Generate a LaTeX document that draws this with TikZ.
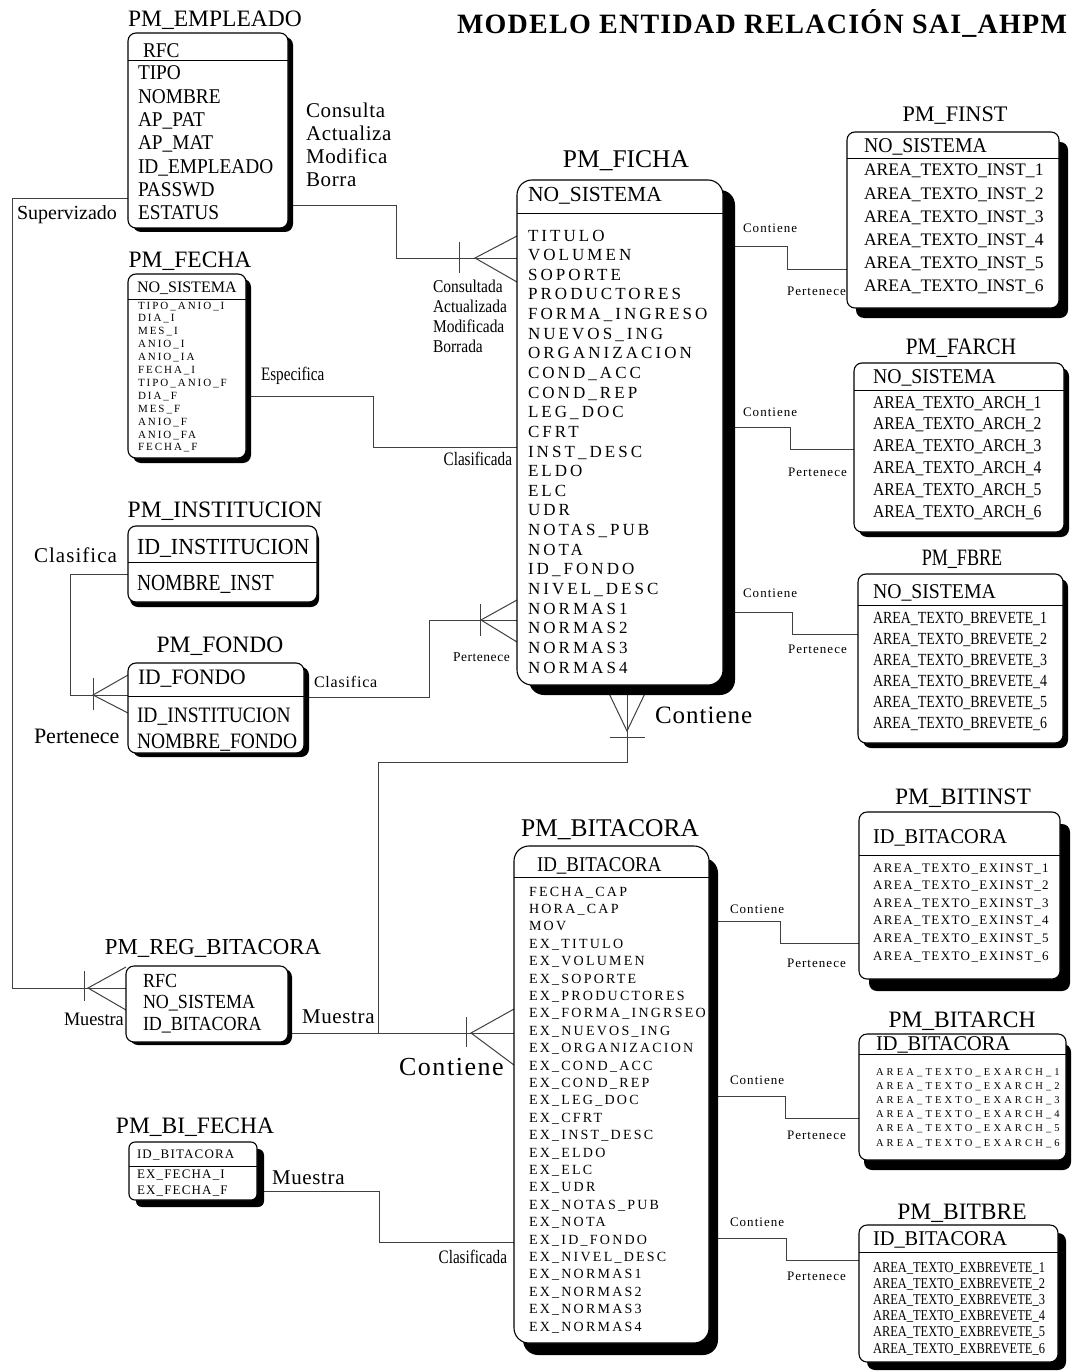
\documentclass[tikz,border=0pt]{standalone}
\usepackage{fontspec}
\setmainfont{Liberation Serif}
\newcommand\FS[3]{\fontsize{#1}{#2}\selectfont\addfontfeatures{FakeStretch=#3}}
\newcommand\FL[3]{\fontsize{#1}{#2}\selectfont\addfontfeatures{LetterSpace=#3}}
\newcommand\FN[2]{\fontsize{#1}{#2}\selectfont}
\newcommand\rows[1]{\begin{tabular}[t]{@{}l@{}}#1\end{tabular}}
\newcommand\ent[8]{%
  \fill[black, rounded corners=#8pt] ({#2+#6},{#3+#7}) rectangle ({#4+#6},{#5+#7});
  \node[box, rounded corners=#8pt, minimum width={#4-#2}, minimum height={#5-#3}] (#1) at (#2,#3) {};
}
\pgfdeclarelayer{back}
\pgfdeclarelayer{bg}
\pgfsetlayers{back,bg,main}
\begin{document}
\begin{tikzpicture}[x=1pt,y=-1pt,
  box/.style={draw, fill=white, line width=1.1pt, inner sep=0pt, outer sep=0pt, anchor=north west},
  hl/.style={line width=1pt},
  conn/.style={line width=1pt, draw=black!75},
  ttl/.style={inner sep=0pt, outer sep=0pt, anchor=base, font=\FN{23.5}{26}},
  txt/.style={inner sep=0pt, outer sep=0pt, anchor=base west},
  sml/.style={txt, font=\FL{13}{15}{8}}
]
\begin{pgfonlayer}{back}
\fill[white] (0,0) rectangle (1073,1372);
\end{pgfonlayer}
\useasboundingbox (0,0) rectangle (1073,1372);

% main title
\node[txt, font=\FL{28}{30}{4.5}\bfseries] (mainT) at (457,34) {MODELO ENTIDAD RELACIÓN SAI\_AHPM};

% ---------------- PM_EMPLEADO
\ent{emp}{128}{33}{288}{228}{5}{4}{8}
\draw[hl] (emp.west |- 0,61) -- (emp.east |- 0,61);
\node[ttl] (empT) at (215,27) {PM\_EMPLEADO};
\node[txt, font=\FS{21}{23.3}{0.92}] (empK) at (143,58) {RFC};
\node[txt, font=\FS{21}{23.3}{0.92}] (empF) at (138,80) {\rows{TIPO\\NOMBRE\\AP\_PAT\\AP\_MAT\\ID\_EMPLEADO\\PASSWD\\ESTATUS}};

% ---------------- PM_FECHA
\ent{fec}{128}{274}{246}{458}{5}{5}{8}
\draw[hl] (fec.west |- 0,299) -- (fec.east |- 0,299);
\node[ttl] (fecT) at (190,267) {PM\_FECHA};
\node[txt, font=\FN{16}{18}] (fecK) at (137,292) {NO\_SISTEMA};
\node[txt, font=\FL{11}{12.9}{18}] (fecF) at (138,309) {\rows{TIPO\_ANIO\_I\\DIA\_I\\MES\_I\\ANIO\_I\\ANIO\_IA\\FECHA\_I\\TIPO\_ANIO\_F\\DIA\_F\\MES\_F\\ANIO\_F\\ANIO\_FA\\FECHA\_F}};

% ---------------- PM_INSTITUCION
\ent{ins}{128}{526}{317}{602}{2}{5}{8}
\draw[hl] (ins.west |- 0,562) -- (ins.east |- 0,562);
\node[ttl] (insT) at (225,517) {PM\_INSTITUCION};
\node[txt, font=\FS{23}{25}{0.95}] (insK) at (137,554) {ID\_INSTITUCION};
\node[txt, font=\FS{23}{25}{0.85}] (insF) at (137,590) {NOMBRE\_INST};

% ---------------- PM_FONDO
\ent{fon}{128}{663}{304}{753}{5}{4}{8}
\draw[hl] (fon.west |- 0,696) -- (fon.east |- 0,696);
\node[ttl] (fonT) at (220,652) {PM\_FONDO};
\node[txt, font=\FS{22}{26}{0.98}] (fonK) at (138,684) {ID\_FONDO};
\node[txt, font=\FS{22}{26}{0.885}] (fonF) at (137,722) {\rows{ID\_INSTITUCION\\NOMBRE\_FONDO}};

% ---------------- PM_REG_BITACORA
\ent{reg}{126}{966}{288}{1042}{4}{3}{8}
\node[ttl, font=\FN{22.8}{26}] (regT) at (213,954) {PM\_REG\_BITACORA};
\node[txt, font=\FS{20}{21.5}{0.9}] (regF) at (143,987) {\rows{RFC\\NO\_SISTEMA\\ID\_BITACORA}};

% ---------------- PM_BI_FECHA
\ent{bif}{129}{1142}{257}{1200}{7}{7}{6}
\draw[hl] (bif.west |- 0,1166) -- (bif.east |- 0,1166);
\node[ttl] (bifT) at (195,1133) {PM\_BI\_FECHA};
\node[txt, font=\FL{13}{16}{9}] (bifK) at (137,1158) {ID\_BITACORA};
\node[txt, font=\FL{13}{16}{9}] (bifF) at (137,1178) {\rows{EX\_FECHA\_I\\EX\_FECHA\_F}};

% ---------------- PM_FICHA
\ent{fic}{517}{180}{723}{685}{12}{10}{15}
\draw[hl] (fic.west |- 0,214) -- (fic.east |- 0,214);
\node[ttl, font=\FN{25.5}{28}] (ficT) at (626,168) {PM\_FICHA};
\node[txt, font=\FN{21.5}{24}] (ficK) at (528,202) {NO\_SISTEMA};
\node[txt, font=\FL{17}{19.64}{18}] (ficF) at (528,241) {\rows{TITULO\\VOLUMEN\\SOPORTE\\PRODUCTORES\\FORMA\_INGRESO\\NUEVOS\_ING\\ORGANIZACION\\COND\_ACC\\COND\_REP\\LEG\_DOC\\CFRT\\INST\_DESC\\ELDO\\ELC\\UDR\\NOTAS\_PUB\\NOTA\\ID\_FONDO\\NIVEL\_DESC\\NORMAS1\\NORMAS2\\NORMAS3\\NORMAS4}};

% ---------------- PM_BITACORA
\ent{bit}{514}{846}{709}{1343}{9}{12}{15}
\draw[hl] (bit.west |- 0,877) -- (bit.east |- 0,877);
\node[ttl, font=\FN{25.5}{28}] (bitT) at (610,836) {PM\_BITACORA};
\node[txt, font=\FS{21}{24}{0.9}] (bitK) at (537,871) {ID\_BITACORA};
\node[txt, font=\FL{14}{17.4}{16}] (bitF) at (529,896) {\rows{FECHA\_CAP\\HORA\_CAP\\MOV\\EX\_TITULO\\EX\_VOLUMEN\\EX\_SOPORTE\\EX\_PRODUCTORES\\EX\_FORMA\_INGRSEO\\EX\_NUEVOS\_ING\\EX\_ORGANIZACION\\EX\_COND\_ACC\\EX\_COND\_REP\\EX\_LEG\_DOC\\EX\_CFRT\\EX\_INST\_DESC\\EX\_ELDO\\EX\_ELC\\EX\_UDR\\EX\_NOTAS\_PUB\\EX\_NOTA\\EX\_ID\_FONDO\\EX\_NIVEL\_DESC\\EX\_NORMAS1\\EX\_NORMAS2\\EX\_NORMAS3\\EX\_NORMAS4}};

% ---------------- PM_FINST
\ent{fin}{847}{132}{1059}{308}{9}{10}{8}
\draw[hl] (fin.west |- 0,159) -- (fin.east |- 0,159);
\node[ttl, font=\FN{22.2}{26}] (finT) at (955,122) {PM\_FINST};
\node[txt, font=\FS{21}{23}{0.94}] (finK) at (864,153) {NO\_SISTEMA};
\node[txt, font=\FN{17.6}{23.2}] (finF) at (864,176) {\rows{AREA\_TEXTO\_INST\_1\\AREA\_TEXTO\_INST\_2\\AREA\_TEXTO\_INST\_3\\AREA\_TEXTO\_INST\_4\\AREA\_TEXTO\_INST\_5\\AREA\_TEXTO\_INST\_6}};

% ---------------- PM_FARCH
\ent{far}{854}{363}{1064}{532}{5}{5}{8}
\draw[hl] (far.west |- 0,390) -- (far.east |- 0,390);
\node[ttl, font=\FS{23.5}{26}{0.9}] (farT) at (961,354) {PM\_FARCH};
\node[txt, font=\FS{21}{23}{0.94}] (farK) at (873,383) {NO\_SISTEMA};
\node[txt, font=\FS{18}{21.8}{0.87}] (farF) at (873,408) {\rows{AREA\_TEXTO\_ARCH\_1\\AREA\_TEXTO\_ARCH\_2\\AREA\_TEXTO\_ARCH\_3\\AREA\_TEXTO\_ARCH\_4\\AREA\_TEXTO\_ARCH\_5\\AREA\_TEXTO\_ARCH\_6}};

% ---------------- PM_FBRE
\ent{fbr}{858}{574}{1063}{743}{5}{5}{8}
\draw[hl] (fbr.west |- 0,605) -- (fbr.east |- 0,605);
\node[ttl, font=\FS{23.5}{26}{0.77}] (fbrT) at (962,565) {PM\_FBRE};
\node[txt, font=\FS{21}{23}{0.94}] (fbrK) at (873,598) {NO\_SISTEMA};
\node[txt, font=\FS{17}{21}{0.82}] (fbrF) at (873,623) {\rows{AREA\_TEXTO\_BREVETE\_1\\AREA\_TEXTO\_BREVETE\_2\\AREA\_TEXTO\_BREVETE\_3\\AREA\_TEXTO\_BREVETE\_4\\AREA\_TEXTO\_BREVETE\_5\\AREA\_TEXTO\_BREVETE\_6}};

% ---------------- PM_BITINST
\ent{bin}{859}{812}{1060}{979}{10}{12}{8}
\draw[hl] (bin.west |- 0,855) -- (bin.east |- 0,855);
\node[ttl] (binT) at (963,804) {PM\_BITINST};
\node[txt, font=\FS{21}{23}{0.97}] (binK) at (873,843) {ID\_BITACORA};
\node[txt, font=\FL{13}{17.6}{11}] (binF) at (873,872) {\rows{AREA\_TEXTO\_EXINST\_1\\AREA\_TEXTO\_EXINST\_2\\AREA\_TEXTO\_EXINST\_3\\AREA\_TEXTO\_EXINST\_4\\AREA\_TEXTO\_EXINST\_5\\AREA\_TEXTO\_EXINST\_6}};

% ---------------- PM_BITARCH
\ent{bar}{859}{1034}{1066}{1160}{5}{10}{8}
\draw[hl] (bar.west |- 0,1054) -- (bar.east |- 0,1054);
\node[ttl] (barT) at (962,1027) {PM\_BITARCH};
\node[txt, font=\FS{21}{23}{0.97}] (barK) at (876,1050) {ID\_BITACORA};
\node[txt, font=\FL{10.5}{14.2}{30}] (barF) at (876,1075) {\rows{AREA\_TEXTO\_EXARCH\_1\\AREA\_TEXTO\_EXARCH\_2\\AREA\_TEXTO\_EXARCH\_3\\AREA\_TEXTO\_EXARCH\_4\\AREA\_TEXTO\_EXARCH\_5\\AREA\_TEXTO\_EXARCH\_6}};

% ---------------- PM_BITBRE
\ent{bbr}{859}{1225}{1058}{1362}{8}{8}{8}
\draw[hl] (bbr.west |- 0,1252) -- (bbr.east |- 0,1252);
\node[ttl] (bbrT) at (962,1219) {PM\_BITBRE};
\node[txt, font=\FS{21}{23}{0.97}] (bbrK) at (873,1245) {ID\_BITACORA};
\node[txt, font=\FS{15}{16.2}{0.83}] (bbrF) at (873,1272) {\rows{AREA\_TEXTO\_EXBREVETE\_1\\AREA\_TEXTO\_EXBREVETE\_2\\AREA\_TEXTO\_EXBREVETE\_3\\AREA\_TEXTO\_EXBREVETE\_4\\AREA\_TEXTO\_EXBREVETE\_5\\AREA\_TEXTO\_EXBREVETE\_6}};

% ---------------- connectors (behind shadows)
\begin{pgfonlayer}{bg}
\draw[conn] (emp.east |- 0,206) -| (396,258) -- (fic.west |- 0,258);
\draw[conn] (fic.west |- 0,236) -- (475,258) -- (fic.west |- 0,282);
\draw[conn] (459,242) -- (459,273);

\draw[conn] (fec.east |- 0,396) -| (373,447) -- (fic.west |- 0,447);

\draw[conn] (fon.east |- 0,697) -| (429,620) -- (fic.west |- 0,620);
\draw[conn] (fic.west |- 0,600) -- (481,620) -- (fic.west |- 0,642);
\draw[conn] (480,604) -- (480,636);

\draw[conn] (ins.west |- 0,574) -| (70,695) -- (fon.west |- 0,695);
\draw[conn] (fon.west |- 0,675) -- (93,695) -- (fon.west |- 0,713);
\draw[conn] (93,678) -- (93,710);

\draw[conn] (emp.west |- 0,199) -| (12,988) -- (reg.west |- 0,988);
\draw[conn] (reg.west |- 0,967) -- (88,988) -- (reg.west |- 0,1010);
\draw[conn] (84,971) -- (84,1001);

\draw[conn] (reg.east |- 0,1033) -- (bit.west |- 0,1033);
\draw[conn] (bit.west |- 0,1009) -- (471,1033) -- (bit.west |- 0,1065);
\draw[conn] (466,1017) -- (466,1047);

\draw[conn] (627,0 |- fic.south) -- (627,762) -| (378,1033);
\draw[conn] (605,0 |- fic.south) -- (627,731) -- (649,0 |- fic.south);
\draw[conn] (610,737) -- (645,737);

\draw[conn] (bif.east |- 0,1191) -| (379,1242) -- (bit.west |- 0,1242);

\draw[conn] (fic.east |- 0,247) -| (787,269) -- (fin.west |- 0,269);
\draw[conn] (fic.east |- 0,427) -| (790,449) -- (far.west |- 0,449);
\draw[conn] (fic.east |- 0,612) -| (792,634) -- (fbr.west |- 0,634);
\draw[conn] (bit.east |- 0,921) -| (780,943) -- (bin.west |- 0,943);
\draw[conn] (bit.east |- 0,1096) -| (785,1118) -- (bar.west |- 0,1118);
\draw[conn] (bit.east |- 0,1238) -| (786,1260) -- (bbr.west |- 0,1260);
\end{pgfonlayer}

% ---------------- relationship labels
\node[txt, font=\FL{21}{22.7}{3}] (lbCons) at (306,118) {\rows{Consulta\\Actualiza\\Modifica\\Borra}};
\node[txt, font=\FN{20}{22}] (lbSup) at (17,220) {Supervizado};
\node[txt, font=\FS{18}{20}{0.86}] (lbConsd) at (433,292) {\rows{Consultada\\Actualizada\\Modificada\\Borrada}};
\node[txt, font=\FS{19}{21}{0.8}] (lbEsp) at (261,380) {Especifica};
\node[txt, anchor=base east, font=\FS{19}{21}{0.8}] (lbClsd1) at (512,465) {Clasificada};
\node[txt, font=\FL{21}{23}{5}] (lbCls1) at (34,562) {Clasifica};
\node[txt, font=\FN{22}{24}] (lbPer1) at (34,743) {Pertenece};
\node[txt, font=\FL{16}{18}{5}] (lbCls2) at (314,687) {Clasifica};
\node[txt, font=\FL{13.5}{15}{4}] (lbPer2) at (453,661) {Pertenece};
\node[txt, font=\FL{25}{27}{4}] (lbCon1) at (655,723) {Contiene};
\node[txt, font=\FS{19}{21}{0.96}] (lbMue1) at (64,1025) {Muestra};
\node[txt, font=\FL{21}{23}{3}] (lbMue2) at (302,1023) {Muestra};
\node[txt, font=\FL{26}{28}{6}] (lbCon2) at (399,1075) {Contiene};
\node[txt, font=\FL{21}{23}{3}] (lbMue3) at (272,1184) {Muestra};
\node[txt, anchor=base east, font=\FS{19}{21}{0.8}] (lbClsd2) at (507,1263) {Clasificada};

\node[sml] (lbC1) at (743,233) {Contiene};
\node[sml] (lbP1) at (787,295) {Pertenece};
\node[sml] (lbC2) at (743,416) {Contiene};
\node[sml] (lbP2) at (788,476) {Pertenece};
\node[sml] (lbC3) at (743,597) {Contiene};
\node[sml] (lbP3) at (788,653) {Pertenece};
\node[sml] (lbC4) at (730,913) {Contiene};
\node[sml] (lbP4) at (787,967) {Pertenece};
\node[sml] (lbC5) at (730,1084) {Contiene};
\node[sml] (lbP5) at (787,1139) {Pertenece};
\node[sml] (lbC6) at (730,1226) {Contiene};
\node[sml] (lbP6) at (787,1280) {Pertenece};
\end{tikzpicture}
\end{document}
